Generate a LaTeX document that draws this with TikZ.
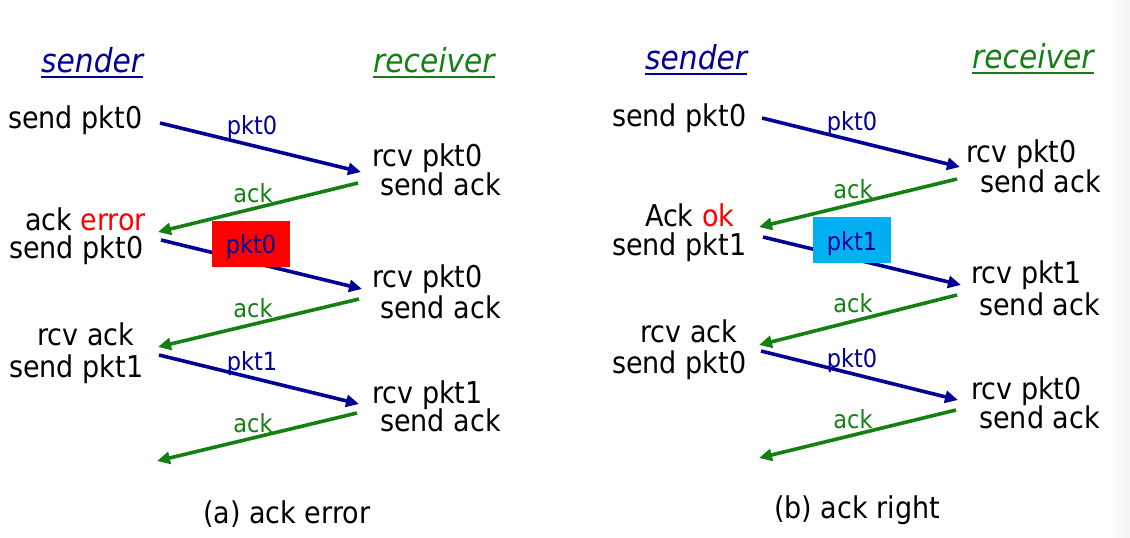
\documentclass[tikz,border=0pt]{standalone}
\usepackage{fontspec}
\setmainfont{DejaVu Sans Condensed}
\usetikzlibrary{arrows.meta}
\definecolor{pktblue}{RGB}{0,0,150}
\definecolor{ackgreen}{RGB}{20,128,20}
\definecolor{errred}{RGB}{255,0,0}
\definecolor{okcyan}{RGB}{0,176,240}
\begin{document}
\begin{tikzpicture}[x=1pt,y=-1pt,
  txt/.style={inner sep=0pt,anchor=base west,font=\fontsize{30}{34}\selectfont},
  head/.style={inner sep=0pt,anchor=base west,font=\fontsize{33}{37}\selectfont\itshape},
  lbl/.style={inner sep=0pt,anchor=base,font=\fontsize{25}{29}\selectfont},
  pktlbl/.style={lbl,text=pktblue},
  acklbl/.style={lbl,text=ackgreen},
  msg/.style={line width=3.6pt,-{Triangle[length=13pt,width=12pt]}},
  pktmsg/.style={msg,draw=pktblue},
  ackmsg/.style={msg,draw=ackgreen},
  flag/.style={inner sep=0pt,minimum width=78pt,minimum height=46pt}
]
\useasboundingbox (0,0) rectangle (1130,538);
% faint edge shade on the right border
\shade[left color=white,right color=black!4] (1110,0) rectangle (1130,538);

% ================= (a) ack error =================
\node[head,text=pktblue] (aS) at (41,72) {sender};
\draw[pktblue,line width=1.4pt] ([yshift=-5pt]aS.base west) -- ([yshift=-5pt]aS.base east);
\node[head,text=ackgreen] (aR) at (373,72) {receiver};
\draw[ackgreen,line width=1.4pt] ([yshift=-5pt]aR.base west) -- ([yshift=-5pt]aR.base east);

\node[txt] (a1) at (8,128) {send pkt0};
\node[txt] (a2) at (372,166) {rcv pkt0};
\node[txt] (a3) at (380,195) {send ack};
\node[txt] (a4) at (25,230) {ack \textcolor{errred}{error}};
\node[txt] (a5) at (9,258) {send pkt0};
\node[txt] (a6) at (372,287) {rcv pkt0};
\node[txt] (a7) at (380,318) {send ack};
\node[txt] (a8) at (37,345) {rcv ack};
\node[txt] (a9) at (9,377) {send pkt1};
\node[txt] (a10) at (372,403) {rcv pkt1};
\node[txt] (a11) at (380,431) {send ack};

\coordinate (aP1s) at (160,123); \coordinate (aP1e) at (361,172);
\coordinate (aA1s) at (358,183); \coordinate (aA1e) at (158,232);
\coordinate (aP2s) at (161,240); \coordinate (aP2e) at (362,289);
\coordinate (aA2s) at (359,299); \coordinate (aA2e) at (158,347);
\coordinate (aP3s) at (159,355); \coordinate (aP3e) at (359,404);
\coordinate (aA3s) at (357,413); \coordinate (aA3e) at (157,461);

\draw[pktmsg] (aP1s) -- (aP1e);
\draw[ackmsg] (aA1s) -- (aA1e);
\draw[pktmsg] (aP2s) -- (aP2e);
\draw[ackmsg] (aA2s) -- (aA2e);
\draw[pktmsg] (aP3s) -- (aP3e);
\draw[ackmsg] (aA3s) -- (aA3e);

\node[pktlbl] (aL1) at (252,134) {pkt0};
\node[acklbl] (aL2) at (253,202) {ack};
\node[flag,fill=errred] (aBox) at (251,244) {};
\node[pktlbl] (aL3) at (251,253) {pkt0};
\node[acklbl] (aL4) at (253,317) {ack};
\node[pktlbl] (aL5) at (252,370) {pkt1};
\node[acklbl] (aL6) at (253,432) {ack};

\node[txt] (aCap) at (203,523) {(a) ack error};

% ================= (b) ack right =================
\node[head,text=pktblue] (bS) at (645,69) {sender};
\draw[pktblue,line width=1.4pt] ([yshift=-5pt]bS.base west) -- ([yshift=-5pt]bS.base east);
\node[head,text=ackgreen] (bR) at (972,68) {receiver};
\draw[ackgreen,line width=1.4pt] ([yshift=-5pt]bR.base west) -- ([yshift=-5pt]bR.base east);

\node[txt] (b1) at (612,126) {send pkt0};
\node[txt] (b2) at (966,162) {rcv pkt0};
\node[txt] (b3) at (980,192) {send ack};
\node[txt] (b4) at (645,226) {Ack \textcolor{errred}{ok}};
\node[txt] (b5) at (612,255) {send pkt1};
\node[txt] (b6) at (971,283) {rcv pkt1};
\node[txt] (b7) at (979,315) {send ack};
\node[txt] (b8) at (640,342) {rcv ack};
\node[txt] (b9) at (612,373) {send pkt0};
\node[txt] (b10) at (971,399) {rcv pkt0};
\node[txt] (b11) at (979,428) {send ack};

\coordinate (bP1s) at (762,118); \coordinate (bP1e) at (960,167);
\coordinate (bA1s) at (957,179); \coordinate (bA1e) at (759,227);
\coordinate (bP2s) at (763,237); \coordinate (bP2e) at (961,285);
\coordinate (bA2s) at (957,295); \coordinate (bA2e) at (759,345);
\coordinate (bP3s) at (761,351); \coordinate (bP3e) at (958,400);
\coordinate (bA3s) at (956,410); \coordinate (bA3e) at (759,458);

\draw[pktmsg] (bP1s) -- (bP1e);
\draw[ackmsg] (bA1s) -- (bA1e);
\draw[pktmsg] (bP2s) -- (bP2e);
\draw[ackmsg] (bA2s) -- (bA2e);
\draw[pktmsg] (bP3s) -- (bP3e);
\draw[ackmsg] (bA3s) -- (bA3e);

\node[pktlbl] (bL1) at (852,130) {pkt0};
\node[acklbl] (bL2) at (853,198) {ack};
\node[flag,fill=okcyan] (bBox) at (852,240) {};
\node[pktlbl] (bL3) at (852,250) {pkt1};
\node[acklbl] (bL4) at (853,312) {ack};
\node[pktlbl] (bL5) at (852,367) {pkt0};
\node[acklbl] (bL6) at (853,428) {ack};

\node[txt] (bCap) at (774,518) {(b) ack right};
\end{tikzpicture}
\end{document}
